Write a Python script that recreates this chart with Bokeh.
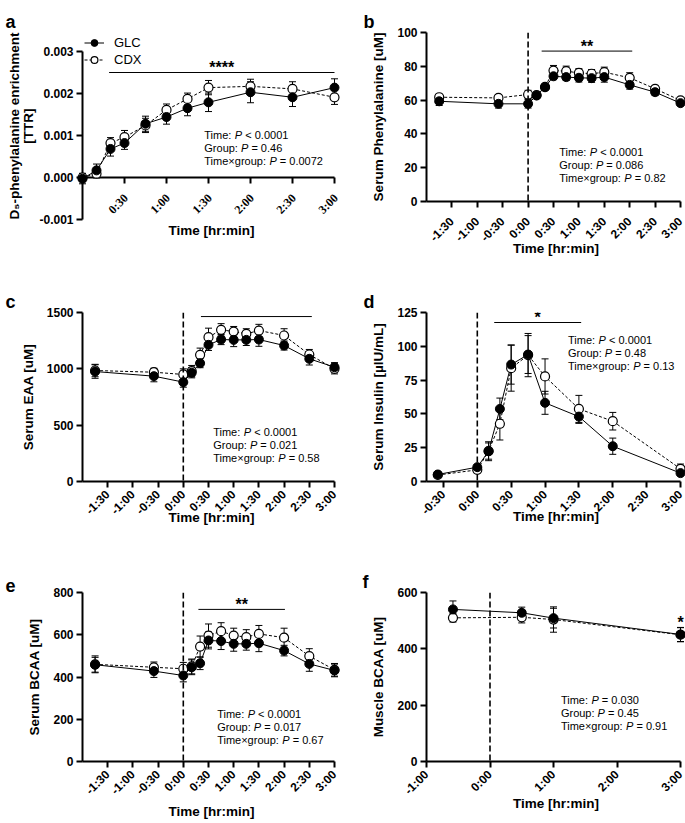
import math
from bokeh.plotting import figure
from bokeh.models import (Range1d, FixedTicker, NumeralTickFormatter,
                          Span, Label, Legend, LegendItem)
from bokeh.layouts import row, column
from bokeh.embed import file_html
from bokeh.resources import INLINE

FONT = "Liberation Sans"

# ---------------- data ----------------
# panel a: D5-phenylalanine enrichment [TTR]
a_time = [0, 10, 20, 30, 45, 60, 75, 90, 120, 150, 180]
a_glc = [-0.00003, 0.00017, 0.00068, 0.00082, 0.00128, 0.00144, 0.00165, 0.00179, 0.00203, 0.00191, 0.00214]
a_glc_err = [0.00012, 0.00015, 0.00017, 0.00015, 0.00018, 0.00017, 0.00018, 0.00022, 0.00025, 0.00022, 0.00021]
a_cdx = [0.0, 0.00009, 0.00082, 0.00096, 0.00124, 0.00161, 0.00187, 0.00214, 0.00217, 0.00211, 0.00191]
a_cdx_err = [0.0001, 0.0001, 0.00013, 0.00016, 0.00017, 0.00014, 0.00014, 0.00017, 0.00017, 0.00017, 0.00017]

# panels b, c, e share sampling times
serum_time = [-105, -35, 0, 10, 20, 30, 45, 60, 75, 90, 120, 150, 180]

b_glc = [59.3, 57.8, 57.8, 62.7, 67.6, 74.1, 73.6, 73.2, 73.0, 73.6, 69.0, 64.7, 58.2]
b_glc_err = [2.5, 2.5, 2.5, 1.5, 1.5, 2.0, 2.0, 2.5, 2.5, 3.0, 2.5, 2.0, 1.5]
b_cdx = [61.7, 61.3, 63.3, 63.0, 67.8, 77.5, 77.1, 76.1, 75.6, 76.5, 73.2, 66.7, 59.8]
b_cdx_err = [1.5, 2.0, 2.5, 1.5, 1.5, 3.0, 3.0, 2.5, 2.5, 3.0, 3.0, 2.0, 1.5]

c_glc = [976, 935, 882, 965, 1050, 1213, 1260, 1257, 1257, 1260, 1207, 1089, 1015]
c_glc_err = [60, 50, 45, 45, 40, 50, 45, 60, 50, 60, 40, 55, 40]
c_cdx = [985, 970, 950, 980, 1124, 1281, 1346, 1331, 1311, 1340, 1296, 1127, 1000]
c_cdx_err = [55, 35, 50, 50, 60, 80, 55, 45, 45, 55, 60, 45, 45]

e_glc = [458, 428, 407, 446, 465, 573, 570, 557, 557, 560, 525, 462, 431]
e_glc_err = [35, 30, 30, 35, 30, 40, 40, 35, 30, 40, 25, 35, 30]
e_cdx = [460, 446, 439, 450, 544, 596, 617, 596, 589, 604, 586, 499, 434]
e_cdx_err = [40, 25, 30, 35, 50, 55, 40, 35, 35, 40, 45, 35, 30]

# panel d: serum insulin
d_time = [-35, 0, 10, 20, 30, 45, 60, 90, 120, 180]
d_glc = [5.2, 10.6, 22.4, 53.7, 86.5, 93.9, 58.2, 48.0, 26.1, 6.2]
d_glc_err = [1.0, 1.5, 7.0, 8.0, 14.5, 14.0, 8.5, 5.0, 6.0, 1.5]
d_cdx = [4.8, 8.6, 22.5, 42.7, 83.8, 93.5, 77.7, 53.7, 44.6, 9.4]
d_cdx_err = [1.0, 1.5, 6.0, 12.0, 17.0, 16.0, 13.0, 10.0, 6.5, 3.5]

# panel f: muscle BCAA
f_time = [-35, 30, 60, 180]
f_glc = [540, 528, 509, 451]
f_glc_err = [30, 20, 35, 25]
f_cdx = [510, 512, 504, 450]
f_cdx_err = [15, 20, 45, 25]

# tick labels
x_ticks_full = [-90, -60, -30, 0, 30, 60, 90, 120, 150, 180]
x_labels_full = ["-1:30", "-1:00", "-0:30", "0:00", "0:30", "1:00", "1:30", "2:00", "2:30", "3:00"]
x_ticks_a = [30, 60, 90, 120, 150, 180]
x_labels_a = ["0:30", "1:00", "1:30", "2:00", "2:30", "3:00"]
x_ticks_d = [-30, 0, 30, 60, 90, 120, 150, 180]
x_labels_d = ["-0:30", "0:00", "0:30", "1:00", "1:30", "2:00", "2:30", "3:00"]
x_ticks_f = [-60, 0, 60, 120, 180]
x_labels_f = ["-1:00", "0:00", "1:00", "2:00", "3:00"]

y_ticks_a = [-0.001, 0.0, 0.001, 0.002, 0.003]
y_ticks_b = [0, 20, 40, 60, 80, 100]
y_ticks_c = [0, 500, 1000, 1500]
y_ticks_d = [0, 25, 50, 75, 100, 125]
y_ticks_e = [0, 200, 400, 600, 800]
y_ticks_f = [0, 200, 400, 600]

# statistics text
stat_prefix = ["Time: ", "Group: ", "Time\u00d7group: "]
p_a = ["< 0.0001", "= 0.46", "= 0.0072"]
p_b = ["< 0.0001", "= 0.086", "= 0.82"]
p_c = ["< 0.0001", "= 0.021", "= 0.58"]
p_d = ["< 0.0001", "= 0.48", "= 0.13"]
p_e = ["< 0.0001", "= 0.017", "= 0.67"]
p_f = ["= 0.030", "= 0.45", "= 0.91"]

# significance bars: (start, end, level, stars)
sig_a = (19, 180, 0.0025, "****")
sig_b = (16, 123, 89, "**")
sig_c = (21, 153, 1464, "****")
sig_d = (15, 92, 117.6, "*")
sig_e = (18, 121, 720, "**")
star_f = (180, 508, "*")

# ---------------- layout ----------------
LW, RW = 340, 345
L_ML, R_ML = 82, 86
L_PAD, R_PAD = 6, 5      # px of frame kept right of the 3:00 tick
ROW_H = [262, 280, 280]

AW = {'T': 611, 'i': 222, 'm': 833, 'e': 556, ':': 278, ' ': 278, 'G': 778, 'r': 333,
      'o': 556, 'u': 556, 'p': 556, '\u00d7': 584, 'g': 556}


def text_w(s, size):
    return sum(AW.get(c, 556) for c in s) * size / 1000.0


def style_axis(ax, label, standoff):
    ax.axis_label = label
    ax.axis_label_text_font = FONT
    ax.axis_label_text_font_style = "bold"
    ax.axis_label_text_font_size = "13.5px"
    ax.axis_label_text_color = "black"
    ax.axis_label_standoff = standoff
    ax.major_label_text_font = FONT
    ax.major_label_text_font_style = "bold"
    ax.major_label_text_font_size = "12px"
    ax.major_label_text_color = "black"
    ax.axis_line_width = 2
    ax.axis_line_color = "black"
    ax.major_tick_line_width = 2
    ax.major_tick_line_color = "black"
    ax.major_tick_in = 0
    ax.major_tick_out = 6
    ax.minor_tick_line_color = None


def make_panel(letter, left_col, H, mt, mb, xr, yr, xt, xl, yt, ylabel,
               t, glc, glc_e, cdx, cdx_e, pvals, text_xy, sig, star=None,
               zero_axis=False, vline=True, yfmt=None, xstand=4, ystand=8,
               xlab_stand=5, legend=False, title_off=-77, top_px=0):
    W = LW if left_col else RW
    ml = L_ML if left_col else R_ML
    pad = L_PAD if left_col else R_PAD
    fh = H - mt - mb
    fw = W - ml
    lv = "annotation"
    x_end = xr[1] + pad * (xr[1] - xr[0]) / (fw - pad)
    y_end = yr[1] + top_px * (yr[1] - yr[0]) / (fh - top_px)
    dpx_x = (x_end - xr[0]) / fw
    dpx_y = (y_end - yr[0]) / fh
    p = figure(width=W, height=H, x_range=Range1d(xr[0], x_end), y_range=Range1d(yr[0], y_end),
               output_backend="svg", toolbar_location=None, tools="",
               min_border_left=ml, min_border_right=0, min_border_top=mt, min_border_bottom=mb,
               frame_align=False)
    p.outline_line_color = None
    p.grid.visible = False
    p.background_fill_color = "white"
    p.border_fill_color = "white"

    # panel letter
    p.title.text = letter
    p.title.align = "left"
    p.title.offset = title_off
    p.title.standoff = 2
    p.title.text_font = FONT
    p.title.text_font_style = "bold"
    p.title.text_font_size = "18px"
    p.title.text_color = "black"

    xa = p.xaxis[0]
    style_axis(xa, "Time [hr:min]", xstand)
    xa.bounds = (xr[0], xr[1])
    xa.major_label_standoff = xlab_stand
    if zero_axis:
        # x axis crossing the y axis at 0: the frame's own axis only carries the title
        xa.ticker = FixedTicker(ticks=[])
        xa.axis_line_color = None
        xa.major_tick_line_color = None
        p.segment([xr[0]], [0], [xr[1]], [0], line_color="black", line_width=2, level=lv)
        p.segment(xt, [0] * len(xt), xt, [-6 * dpx_y] * len(xt), line_color="black",
                  line_width=2, level=lv)
        p.text([v + 1.5 * dpx_x for v in xt], [-18.5 * dpx_y] * len(xt), text=xl,
               angle=math.pi / 4, text_align="right", text_baseline="middle",
               text_font=FONT, text_font_style="bold", text_font_size="12px",
               text_color="black", level=lv)
    else:
        xa.ticker = FixedTicker(ticks=xt)
        xa.major_label_overrides = {k: v for k, v in zip(xt, xl)}
        xa.major_label_orientation = math.pi / 4

    ya = p.yaxis[0]
    ya.ticker = FixedTicker(ticks=yt)
    ya.bounds = (yr[0], yr[1])
    if yfmt:
        ya.formatter = NumeralTickFormatter(format=yfmt)
    ya.major_label_standoff = 3
    style_axis(ya, ylabel, ystand)
    if "\n" in ylabel:
        ya.axis_label_text_line_height = 0.95

    if vline:
        p.add_layout(Span(location=0, dimension="height", line_color="black",
                          line_width=1.6, line_dash="6 3"))

    for vals, errs in ((cdx, cdx_e), (glc, glc_e)):
        lo = [v - s for v, s in zip(vals, errs)]
        up = [v + s for v, s in zip(vals, errs)]
        p.segment(t, lo, t, up, line_color="black", line_width=1, level=lv)
        p.scatter(t, lo, marker="dash", size=7, line_color="black", line_width=1, level=lv)
        p.scatter(t, up, marker="dash", size=7, line_color="black", line_width=1, level=lv)
    r_cl = p.line(t, cdx, line_color="black", line_width=1, line_dash="3 2", level=lv)
    r_gl = p.line(t, glc, line_color="black", line_width=1, level=lv)
    r_cm = p.scatter(t, cdx, marker="circle", size=9, fill_color="white",
                     line_color="black", line_width=1.2, level=lv)
    r_gm = p.scatter(t, glc, marker="circle", size=9, fill_color="black",
                     line_color="black", line_width=1, level=lv)

    # significance bar
    if sig is not None:
        x0, x1, ys, stars = sig
        p.segment([x0], [ys], [x1], [ys], line_color="black", line_width=1, level=lv)
        p.add_layout(Label(x=(x0 + x1) / 2, y=ys, text=stars, text_font=FONT,
                           text_font_style="bold", text_font_size="16px", text_align="center",
                           text_baseline="middle", y_offset=5, text_color="black"))
    if star is not None:
        sx, sy, stars = star
        p.add_layout(Label(x=sx, y=sy, text=stars, text_font=FONT,
                           text_font_style="bold", text_font_size="16px", text_align="center",
                           text_baseline="middle", y_offset=-4, text_color="black"))

    # statistics text
    tx, ty = text_xy
    dy = dpx_y * 13.0
    fs = 11
    for k, (pre, pv) in enumerate(zip(stat_prefix, pvals)):
        yy = ty - k * dy
        w1 = text_w(pre, fs)
        common = dict(y=yy, text_font=FONT, text_font_size=f"{fs}px", text_color="black",
                      text_baseline="middle", text_align="left")
        p.add_layout(Label(x=tx, text=pre.strip(), **common))
        p.add_layout(Label(x=tx, x_offset=w1, text="P", text_font_style="italic", **common))
        p.add_layout(Label(x=tx, x_offset=w1 + (667 + 278) * fs / 1000.0, text=pv, **common))

    if legend:
        lg = Legend(items=[LegendItem(label="GLC", renderers=[r_gl, r_gm]),
                           LegendItem(label="CDX", renderers=[r_cl, r_cm])],
                    location="top_left", orientation="vertical",
                    label_text_font=FONT, label_text_font_size="13px", label_text_color="black",
                    glyph_width=20, glyph_height=17, label_height=17, label_standoff=10,
                    spacing=0, padding=0, margin=2, border_line_color=None,
                    background_fill_alpha=0)
        p.add_layout(lg)
    return p


pa = make_panel("a", True, ROW_H[0], 32, 43, (0, 180), (-0.001, 0.003),
                x_ticks_a, x_labels_a, y_ticks_a,
                "D\u2085-phenylalanine enrichment\n[TTR]",
                a_time, a_glc, a_glc_err, a_cdx, a_cdx_err, p_a, (87, 0.00101), sig_a,
                zero_axis=True, vline=False, yfmt="0.000", xstand=3, ystand=0, legend=True,
                title_off=-77, top_px=19)
pb = make_panel("b", False, ROW_H[0], 32, 61, (-120, 180), (0, 100),
                x_ticks_full, x_labels_full, y_ticks_b, "Serum Phenylalanine [uM]",
                serum_time, b_glc, b_glc_err, b_cdx, b_cdx_err, p_b, (36.8, 29.0), sig_b,
                xstand=-11, xlab_stand=12, title_off=-63)
pc = make_panel("c", True, ROW_H[1], 50, 61, (-120, 180), (0, 1500),
                x_ticks_full, x_labels_full, y_ticks_c, "Serum EAA [uM]",
                serum_time, c_glc, c_glc_err, c_cdx, c_cdx_err, p_c, (35.6, 435), sig_c,
                xstand=-15, xlab_stand=5, title_off=-77)
pd_ = make_panel("d", False, ROW_H[1], 50, 61, (-45, 180), (0, 125),
                 x_ticks_d, x_labels_d, y_ticks_d, "Serum Insulin [\u00b5IU/mL]",
                 d_time, d_glc, d_glc_err, d_cdx, d_cdx_err, p_d, (80.4, 104.3), sig_d,
                 xstand=-16, xlab_stand=5, title_off=-63)
pe = make_panel("e", True, ROW_H[2], 50, 61, (-120, 180), (0, 800),
                x_ticks_full, x_labels_full, y_ticks_e, "Serum BCAA [uM]",
                serum_time, e_glc, e_glc_err, e_cdx, e_cdx_err, p_e, (40.3, 227), sig_e,
                xstand=-1, xlab_stand=5, title_off=-77)
pf = make_panel("f", False, ROW_H[2], 50, 61, (-60, 180), (0, 600),
                x_ticks_f, x_labels_f, y_ticks_f, "Muscle BCAA [uM]",
                f_time, f_glc, f_glc_err, f_cdx, f_cdx_err, p_f, (67, 216.6), None,
                star=star_f, xstand=-9, xlab_stand=5, title_off=-64)

layout = column(row(pa, pb), row(pc, pd_), row(pe, pf))
open("out.html", "w").write(file_html(layout, INLINE))
